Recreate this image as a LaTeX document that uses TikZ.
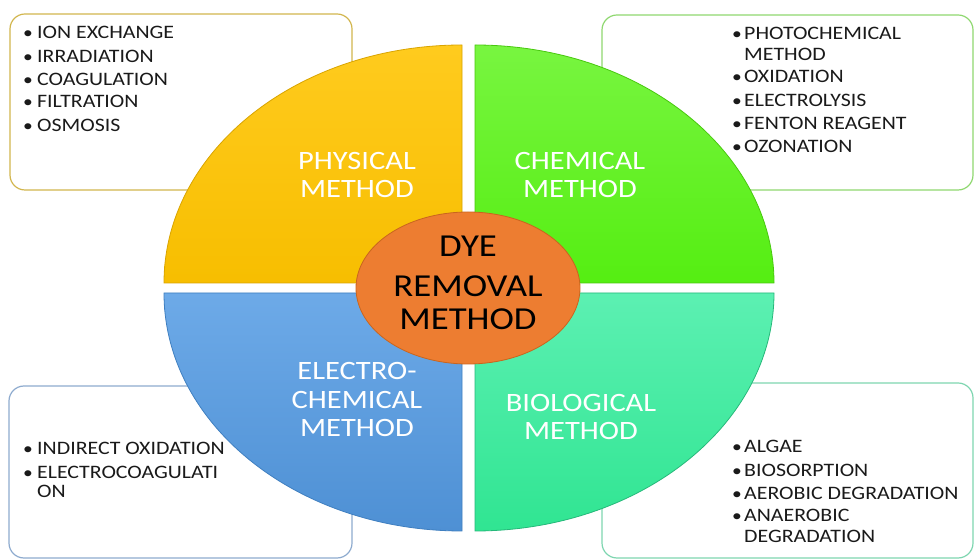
\documentclass[tikz,border=0pt]{standalone}
\usepackage{fontspec}
\setmainfont{Carlito}[FakeStretch=1.15]
\definecolor{yelt}{HTML}{FFCB1E}
\definecolor{yelb}{HTML}{F7BE00}
\definecolor{yeld}{HTML}{D9A400}
\definecolor{grnt}{HTML}{78F540}
\definecolor{grnb}{HTML}{55EE12}
\definecolor{grnd}{HTML}{48C80E}
\definecolor{blut}{HTML}{6DAAE8}
\definecolor{blub}{HTML}{4E90D4}
\definecolor{blud}{HTML}{3F7FC0}
\definecolor{teat}{HTML}{5CF0B2}
\definecolor{teab}{HTML}{30E592}
\definecolor{tead}{HTML}{26B87A}
\definecolor{org}{HTML}{ED7D31}
\definecolor{orgd}{HTML}{C9651E}
\definecolor{bxy}{HTML}{D2B64E}
\definecolor{bxg}{HTML}{8FD870}
\definecolor{bxb}{HTML}{8EABCF}
\definecolor{bxt}{HTML}{7ED6B0}
\definecolor{txt}{HTML}{1A1A1A}
\tikzset{
  listbox/.style={rounded corners=15pt, line width=1.2pt, fill=white},
  sector/.style={line width=0.8pt},
  item/.style={anchor=base west, inner sep=0pt, text=txt, font=\fontsize{19}{19}\selectfont},
  bul/.style={anchor=base west, inner sep=0pt, text=txt, font=\fontsize{17}{17}\selectfont},
  seclabel/.style={anchor=base, inner sep=0pt, text=white, font=\fontsize{26.5}{26.5}\selectfont},
  ctrlabel/.style={anchor=base, inner sep=0pt, text=black, font=\fontsize{32}{32}\selectfont}
}
\begin{document}
\begin{tikzpicture}[x=1pt,y=1pt]
\useasboundingbox (0,0) rectangle (974,559);
\fill[white] (0,0) rectangle (974,559);
% list boxes
\draw[listbox, draw=bxy] (10,369) rectangle (352,545);
\draw[listbox, draw=bxg] (602,369) rectangle (973,544);
\draw[listbox, draw=bxb] (9,1) rectangle (352,173);
\draw[listbox, draw=bxt] (602,1) rectangle (973,176);
% sectors
\draw[sector, top color=yelt, bottom color=yelb, draw=yeld] (462,276) -- (164,276) arc[start angle=180, end angle=90, x radius=298pt, y radius=238pt] -- cycle;
\draw[sector, top color=grnt, bottom color=grnb, draw=grnd] (475,276) -- (475,514) arc[start angle=90, end angle=0, x radius=299pt, y radius=238pt] -- cycle;
\draw[sector, top color=blut, bottom color=blub, draw=blud] (462,266) -- (164,266) arc[start angle=180, end angle=270, x radius=298pt, y radius=238pt] -- cycle;
\draw[sector, top color=teat, bottom color=teab, draw=tead] (475,266) -- (774,266) arc[start angle=0, end angle=-90, x radius=299pt, y radius=238pt] -- cycle;
% centre
\draw[fill=org, draw=orgd, line width=0.8pt] (468,271) ellipse [x radius=112pt, y radius=76pt];
% sector labels
\node[seclabel] (phy1) at (357,389) {PHYSICAL};
\node[seclabel] (phy2) at (357,361) {METHOD};
\node[seclabel] (che1) at (580,389) {CHEMICAL};
\node[seclabel] (che2) at (580,361) {METHOD};
\node[seclabel] (ele1) at (357,179) {ELECTRO-};
\node[seclabel] (ele2) at (357,150) {CHEMICAL};
\node[seclabel] (ele3) at (357,122) {METHOD};
\node[seclabel] (bio1) at (581,147) {BIOLOGICAL};
\node[seclabel] (bio2) at (581,119) {METHOD};
% centre label
\node[ctrlabel] (c1) at (468,302) {DYE};
\node[ctrlabel] (c2) at (468,262) {REMOVAL};
\node[ctrlabel] (c3) at (468,229) {METHOD};
% top-left list
\node[bul] (tlb1) at (23,520) {•};
\node[item] (tl1) at (37,520) {ION EXCHANGE};
\node[bul] (tlb2) at (23,496) {•};
\node[item] (tl2) at (37,496) {IRRADIATION};
\node[bul] (tlb3) at (23,473) {•};
\node[item] (tl3) at (37,473) {COAGULATION};
\node[bul] (tlb4) at (23,451) {•};
\node[item] (tl4) at (37,451) {FILTRATION};
\node[bul] (tlb5) at (23,427) {•};
\node[item] (tl5) at (37,427) {OSMOSIS};
% top-right list
\node[bul] (trb1) at (732,519) {•};
\node[item] (tr1) at (744,519) {PHOTOCHEMICAL};
\node[item] (tr1b) at (744,498) {METHOD};
\node[bul] (trb2) at (732,476) {•};
\node[item] (tr2) at (744,476) {OXIDATION};
\node[bul] (trb3) at (732,452) {•};
\node[item] (tr3) at (744,452) {ELECTROLYSIS};
\node[bul] (trb4) at (732,429) {•};
\node[item] (tr4) at (744,429) {FENTON REAGENT};
\node[bul] (trb5) at (732,406) {•};
\node[item] (tr5) at (744,406) {OZONATION};
% bottom-left list
\node[bul] (blb1) at (23,104) {•};
\node[item] (bl1) at (37,104) {INDIRECT OXIDATION};
\node[bul] (blb2) at (23,80) {•};
\node[item] (bl2) at (37,80) {ELECTROCOAGULATI};
\node[item] (bl2b) at (37,61) {ON};
% bottom-right list
\node[bul] (brb1) at (732,106) {•};
\node[item] (br1) at (744,106) {ALGAE};
\node[bul] (brb2) at (732,82) {•};
\node[item] (br2) at (744,82) {BIOSORPTION};
\node[bul] (brb3) at (732,59) {•};
\node[item] (br3) at (744,59) {AEROBIC DEGRADATION};
\node[bul] (brb4) at (732,37) {•};
\node[item] (br4) at (744,37) {ANAEROBIC};
\node[item] (br4b) at (744,16) {DEGRADATION};
\end{tikzpicture}
\end{document}
